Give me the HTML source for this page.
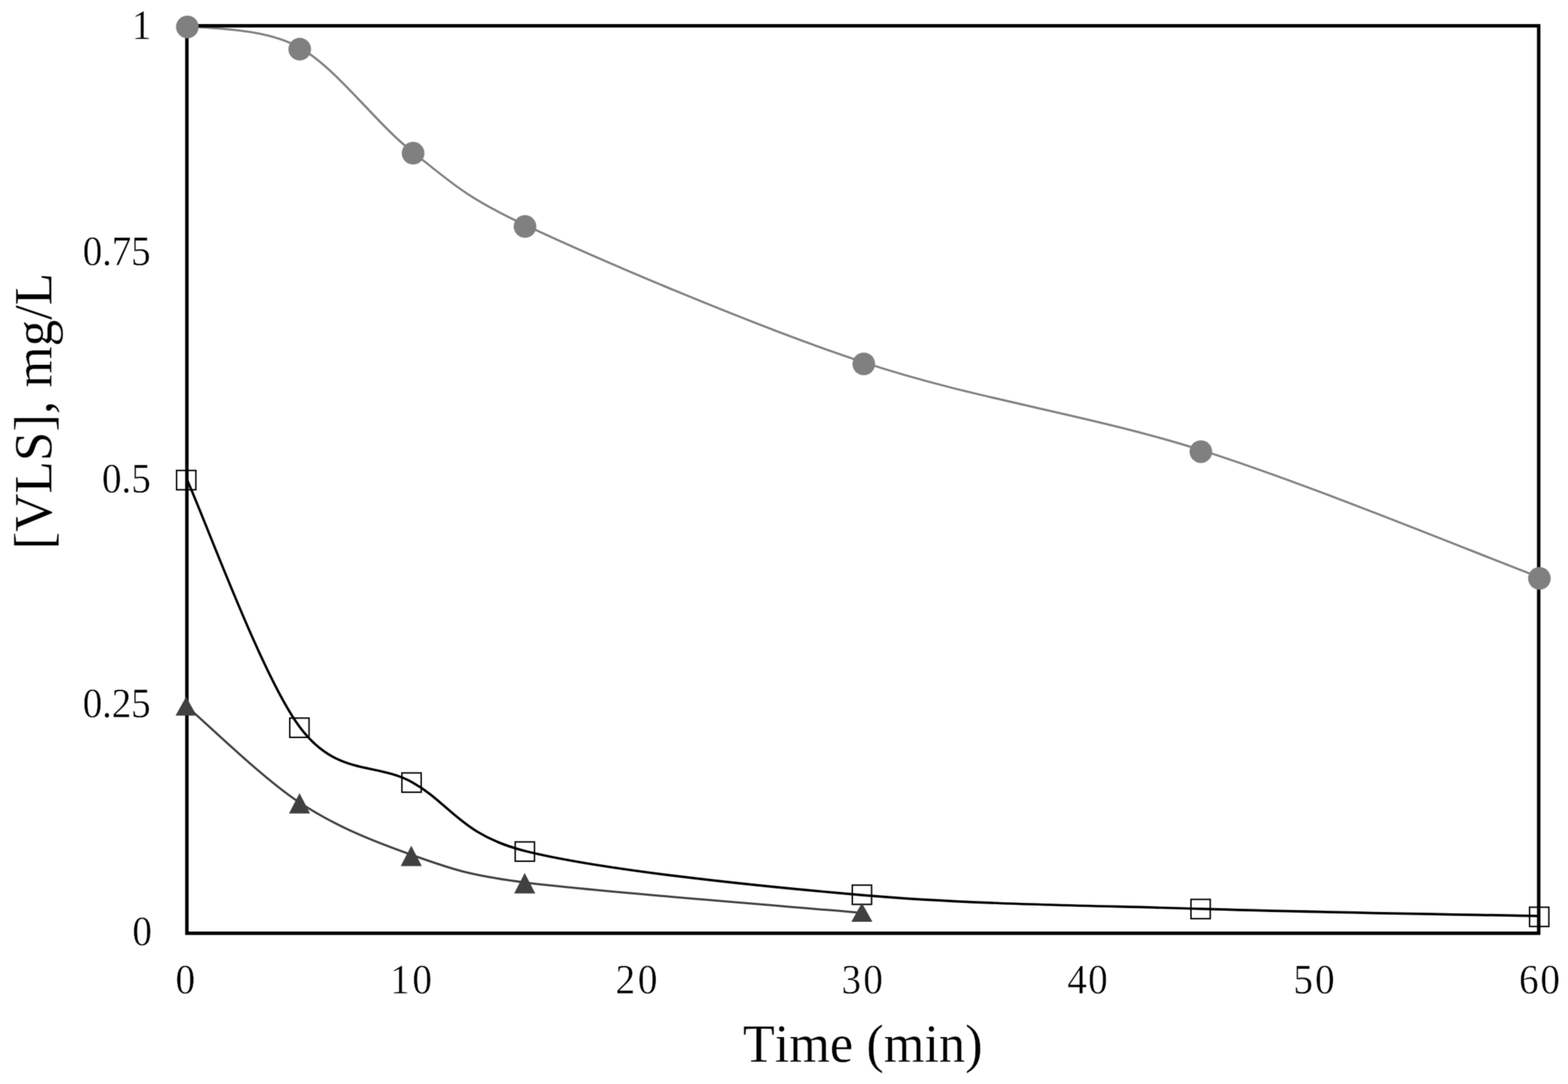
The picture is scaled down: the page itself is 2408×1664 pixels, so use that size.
<!DOCTYPE html>
<html lang="en">
<head>
<meta charset="utf-8">
<title>[VLS] vs Time</title>
<style>
html,body{margin:0;padding:0;background:#fff;}
body{width:2408px;height:1664px;overflow:hidden;}
svg{display:block;}
text{font-family:"Liberation Serif","DejaVu Serif",serif;fill:#000;font-kerning:none;font-variant-ligatures:none;text-rendering:geometricPrecision;}
.tick{font-size:64.4px;stroke:#fff;stroke-width:0.55px;}
.title{font-size:83px;stroke:#fff;stroke-width:0.35px;}
</style>
</head>
<body>
<svg width="2408" height="1664" viewBox="0 0 2408 1664">
<defs>
<filter id="soften" x="0" y="0" width="2408" height="1664" filterUnits="userSpaceOnUse" color-interpolation-filters="sRGB">
<feConvolveMatrix order="3" kernelMatrix="0.0625 0.25 0.0625 0.25 1 0.25 0.0625 0.25 0.0625" divisor="2.25" edgeMode="duplicate" preserveAlpha="false"/>
</filter>
</defs>
<g id="chart" filter="url(#soften)">
<rect x="0" y="0" width="2408" height="1664" fill="#ffffff"/>
<g id="lines" fill="none" stroke-linecap="round" stroke-linejoin="round">
<path d="M287.00 39.40 C315.83 45.00 402.33 40.78 460.00 73.00 C517.67 105.22 575.33 187.33 633.00 232.70 C690.67 278.07 712.51 301.55 806.00 345.20 C921.33 399.05 1152.00 498.20 1325.00 555.80 C1498.00 613.40 1671.00 635.82 1844.00 690.80 C2017.00 745.78 2276.50 853.22 2363.00 885.70" stroke="#808080" stroke-width="3.3"/>
<path d="M287.00 736.10 C315.83 799.35 402.33 1038.15 460.00 1115.60 C517.58 1192.94 575.33 1169.03 633.00 1200.80 C690.67 1232.57 707.74 1281.59 806.00 1306.20 C921.33 1335.08 1152.00 1359.28 1325.00 1374.10 C1498.00 1388.92 1671.00 1389.75 1844.00 1395.10 C2017.00 1400.45 2276.50 1404.35 2363.00 1406.20" stroke="#000000" stroke-width="3.7"/>
<path d="M287.00 1084.40 C315.83 1108.98 402.33 1193.87 460.00 1231.90 C517.67 1269.93 575.33 1292.15 633.00 1312.60 C690.67 1333.05 717.71 1343.27 806.00 1354.60 C921.33 1369.40 1238.50 1393.60 1325.00 1401.40" stroke="#404040" stroke-width="3.3"/>
</g>
<g id="frame">
<rect x="287.00" y="39.60" width="2076.00" height="1393.00" fill="none" stroke="#000000" stroke-width="5.30"/>
</g>
<g id="circles" fill="#808080">
<circle cx="287.70" cy="41.30" r="17.4"/>
<circle cx="460.30" cy="75.50" r="17.4"/>
<circle cx="634.40" cy="235.20" r="17.4"/>
<circle cx="806.30" cy="347.70" r="17.4"/>
<circle cx="1326.50" cy="558.60" r="17.4"/>
<circle cx="1844.20" cy="693.30" r="17.4"/>
<circle cx="2364.10" cy="887.90" r="17.4"/>
</g>
<g id="squares" fill="none" stroke="#000000" stroke-width="2.2">
<rect x="271.20" y="722.20" width="29.6" height="29.6"/>
<rect x="445.00" y="1102.30" width="29.6" height="29.6"/>
<rect x="617.20" y="1186.50" width="29.6" height="29.6"/>
<rect x="791.20" y="1292.40" width="29.6" height="29.6"/>
<rect x="1308.90" y="1358.70" width="29.6" height="29.6"/>
<rect x="1829.00" y="1380.60" width="29.6" height="29.6"/>
<rect x="2349.00" y="1392.60" width="29.6" height="29.6"/>
</g>
<g id="triangles" fill="#404040">
<path d="M285.80 1069.60 L302.00 1098.60 L269.60 1098.60 Z"/>
<path d="M460.00 1217.50 L476.20 1248.80 L443.80 1248.80 Z"/>
<path d="M631.60 1298.20 L647.80 1329.50 L615.40 1329.50 Z"/>
<path d="M805.80 1340.10 L822.00 1371.60 L789.60 1371.60 Z"/>
<path d="M1323.60 1385.90 L1339.80 1415.10 L1307.40 1415.10 Z"/>
</g>
<g id="yticks" class="tick">
<text transform="translate(202.47 60.30) scale(0.937 1)" x="0" y="0">1</text>
<text transform="translate(126.90 407.30) scale(0.937 1)" x="0" y="0" style="letter-spacing:-0.34px">0.75</text>
<text transform="translate(156.50 755.60) scale(0.937 1)" x="0" y="0" style="letter-spacing:-0.20px">0.5</text>
<text transform="translate(126.90 1100.80) scale(0.937 1)" x="0" y="0" style="letter-spacing:-0.34px">0.25</text>
<text transform="translate(203.30 1450.80) scale(0.937 1)" x="0" y="0">0</text>
</g>
<g id="xticks" class="tick">
<text transform="translate(269.40 1524.60) scale(0.937 1)" x="0" y="0">0</text>
<text transform="translate(599.27 1524.60) scale(0.937 1)" x="0" y="0" style="letter-spacing:4.14px">10</text>
<text transform="translate(945.35 1524.60) scale(0.937 1)" x="0" y="0" style="letter-spacing:4.38px">20</text>
<text transform="translate(1292.31 1524.60) scale(0.937 1)" x="0" y="0" style="letter-spacing:3.46px">30</text>
<text transform="translate(1639.02 1524.60) scale(0.937 1)" x="0" y="0" style="letter-spacing:2.06px">40</text>
<text transform="translate(1986.19 1524.60) scale(0.937 1)" x="0" y="0" style="letter-spacing:3.48px">50</text>
<text transform="translate(2332.71 1524.60) scale(0.937 1)" x="0" y="0" style="letter-spacing:2.72px">60</text>
</g>
<g id="titles" class="title">
<text transform="translate(1140.65 1629.80) scale(0.9685 1)" x="0" y="0">Time (min)</text>
<text transform="translate(79.20 843.44) rotate(-90) scale(0.9800 1)" x="0" y="0">[VLS], mg/L</text>
</g>
</g>
</svg>
</body>
</html>
